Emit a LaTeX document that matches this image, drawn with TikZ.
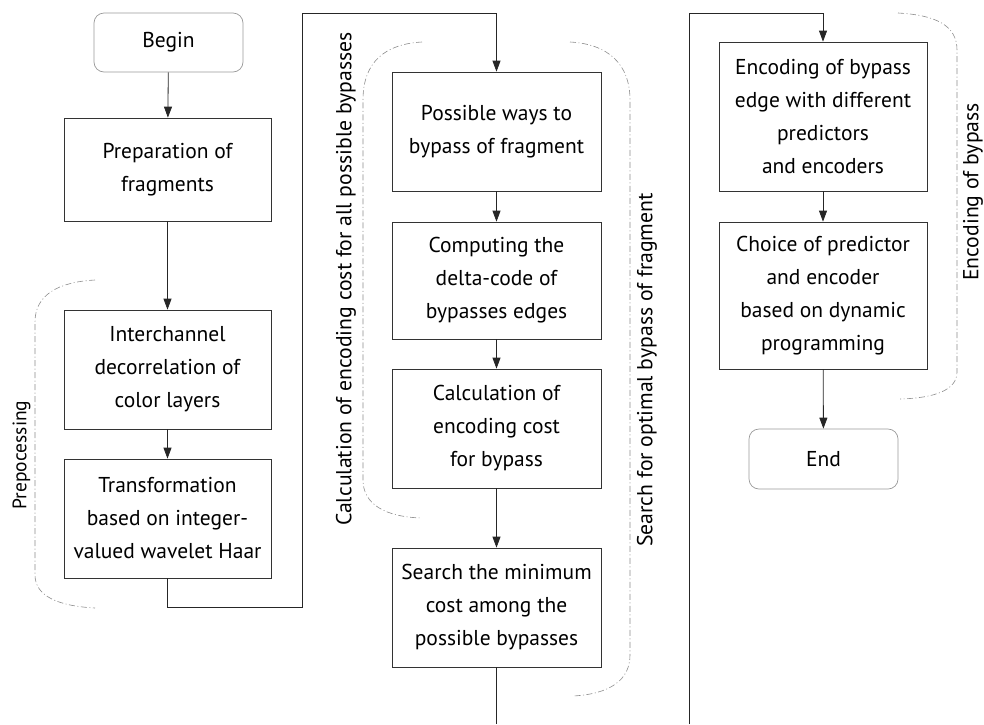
\documentclass[tikz,border=0pt]{standalone}
\usepackage{fontspec}
\setmainfont{PT Sans}
\usetikzlibrary{arrows.meta}
\begin{document}
\begin{tikzpicture}[x=1pt,y=-1pt,
  every node/.style={font=\fontsize{21.5}{33}\selectfont},
  proc/.style={draw=black!80, line width=0.7pt, align=center, inner sep=0pt},
  term/.style={draw=black!40, line width=0.7pt, rounded corners=10pt, align=center, inner sep=0pt, minimum width=149pt, minimum height=59pt},
  conn/.style={draw=black!85, line width=0.8pt},
  arr/.style={conn, -{Triangle[length=11pt,width=8pt]}},
  brace/.style={draw=black!45, line width=0.6pt, dash pattern=on 6pt off 2.5pt on 1pt off 2.5pt},
  side/.style={rotate=90, inner sep=0pt, font=\fontsize{21.7}{25}\selectfont}
]
\useasboundingbox (0,0) rectangle (984,724);
% left column
\node[term] (begin) at (168.5,42.5) {Begin};
\node[proc, minimum width=207pt, minimum height=103pt] (prep) at (167.5,169.5) {Preparation of\\fragments};
\node[proc, minimum width=207pt, minimum height=119pt] (inter) at (167.5,369.5) {Interchannel\\decorrelation of\\color layers};
\node[proc, minimum width=207pt, minimum height=119pt] (trans) at (167.5,518.5) {Transformation\\based on integer-\\valued wavelet Haar};
% middle column
\node[proc, minimum width=209pt, minimum height=119pt] (poss) at (496.5,131.5) {Possible ways to\\bypass of fragment};
\node[proc, minimum width=209pt, minimum height=117pt] (comp) at (496.5,280.5) {Computing the\\delta-code of\\bypasses edges};
\node[proc, minimum width=209pt, minimum height=119pt] (calc) at (496.5,428.5) {Calculation of\\encoding cost\\for bypass};
\node[proc, minimum width=209pt, minimum height=119pt] (search) at (496.5,607.5) {Search the minimum\\cost among the\\possible bypasses};
% right column
\node[proc, minimum width=208pt, minimum height=149pt] (enc) at (823,116.5) {Encoding of bypass\\edge with different\\predictors\\and encoders};
\node[proc, minimum width=208pt, minimum height=147pt] (choice) at (823,295.5) {Choice of predictor\\and encoder\\based on dynamic\\programming};
\node[term, minimum height=60pt] (end) at (823.5,459) {End};
% connector coordinates
\coordinate (l1) at (167.5,607);
\coordinate (l2) at (302,607);
\coordinate (l3) at (302,13);
\coordinate (l4) at (496.5,13);
\coordinate (m1) at (496.5,724);
\coordinate (r0) at (689,724);
\coordinate (r1) at (689,13);
\coordinate (r2) at (823,13);
% connectors
\draw[arr] (begin) -- (prep);
\draw[arr] (prep) -- (inter);
\draw[arr] (inter) -- (trans);
\draw[arr] (trans.south) -- (l1) -- (l2) -- (l3) -- (l4) -- (poss.north);
\draw[arr] (poss) -- (comp);
\draw[arr] (comp) -- (calc);
\draw[arr] (calc) -- (search);
\draw[conn] (search.south) -- (m1);
\draw[arr] (r0) -- (r1) -- (r2) -- (enc.north);
\draw[arr] (enc) -- (choice);
\draw[arr] (choice) -- (end);
% brackets
\draw[brace] (95,280) .. controls (58,282) and (35,295) .. (35,322) -- (35,575) .. controls (35,596) and (58,606) .. (95,608);
\draw[brace] (422,42) .. controls (385,44) and (363,62) .. (363,100) -- (363,480) .. controls (363,504) and (385,517) .. (422,518);
\draw[brace] (570,42) .. controls (608,44) and (630,64) .. (630,100) -- (630,655) .. controls (630,680) and (610,694) .. (573,696);
\draw[brace] (898,13) .. controls (935,15) and (957,25) .. (957,50) -- (957,372) .. controls (957,390) and (935,398) .. (900,399);
% bracket labels
\node[side, font=\fontsize{19.5}{24}\selectfont] (lab1) at (21.5,455) {Prepocessing};
\node[side] (lab2) at (346,279) {Calculation of encoding cost for all possible bypasses};
\node[side] (lab3) at (647,370) {Search for optimal bypass of fragment};
\node[side] (lab4) at (973,192) {Encoding of bypass};
\end{tikzpicture}
\end{document}
